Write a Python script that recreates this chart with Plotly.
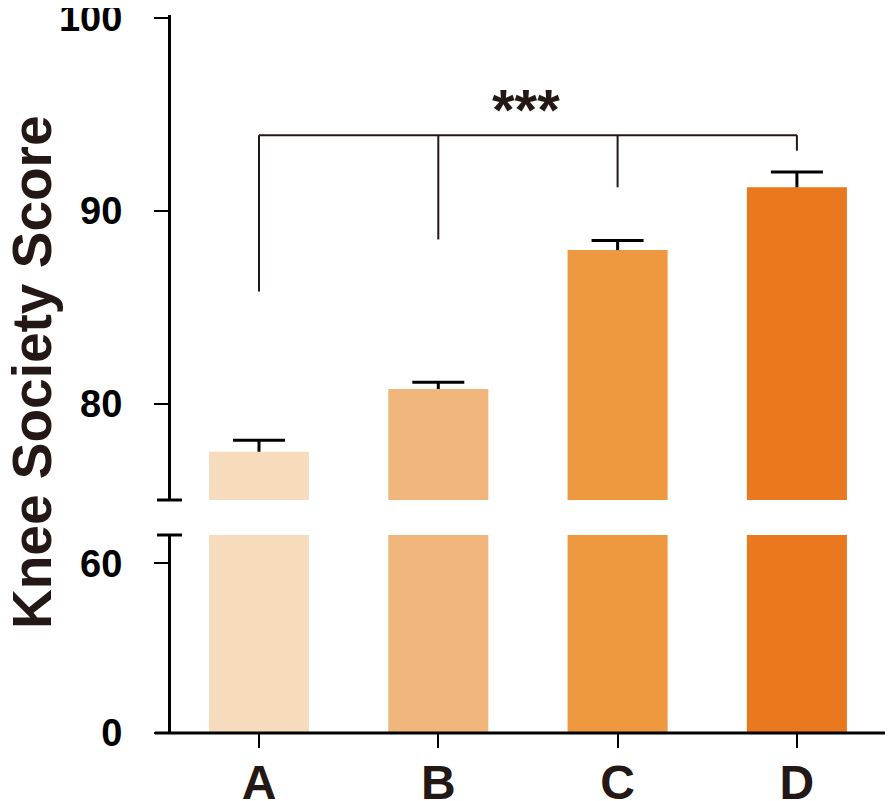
import plotly.graph_objects as go

# ---- data ----
groups = ["A", "B", "C", "D"]
means = [77.5, 80.75, 87.95, 91.2]
sems = [0.6, 0.35, 0.5, 0.8]
bar_colors = ["#F6DBBC", "#F0B67C", "#EE983F", "#E9781E"]

upper_ticks = [80, 90, 100]
lower_ticks = [0, 60]

# significance bracket (drawn on the upper segment)
bracket_y = 93.9
bracket_drop = [85.8, 88.5, 91.2, 93.1]
sig_label = "***"

INK = "#231815"
FONT = "Liberation Sans, Arial, sans-serif"

# page body has an 8px margin, so the figure is a bit smaller than the window
PAGE_PAD = 8
AX_X, AX_Y = 171, 733  # plot left edge and x-axis y, in window pixels
W, H = 893 - PAGE_PAD, 801 - PAGE_PAD
L, R, T, B = AX_X - PAGE_PAD, 1, 15 - PAGE_PAD, 68
plot_h = H - T - B
plot_w = W - L - R

xs = list(range(len(groups)))
cap = 0.145  # half-width of error-bar caps, in category units
x_range = [(AX_X - 259) / 179.3, (892 - 259) / 179.3]

# broken axis: lower 0-70, upper 75-100
low_dom = [0, (AX_Y - 535) / plot_h]
up_dom = [(AX_Y - 500) / plot_h, 1]

fig = go.Figure()

for ax in ["y", "y2"]:
    fig.add_trace(
        go.Bar(
            x=xs,
            y=means,
            yaxis=ax,
            width=0.558,
            marker=dict(color=bar_colors, line=dict(width=0)),
            showlegend=False,
            hoverinfo="skip",
        )
    )

# upper-only error bars (stem + top cap)
ex, ey = [], []
for xi, m, s in zip(xs, means, sems):
    ex += [xi, xi, None, xi - cap, xi + cap, None]
    ey += [m, m + s, None, m + s, m + s, None]
fig.add_trace(
    go.Scatter(
        x=ex, y=ey, yaxis="y2", mode="lines",
        line=dict(color="#000000", width=3),
        showlegend=False, hoverinfo="skip",
    )
)

# bracket
bx, by = [xs[0], xs[-1], None], [bracket_y, bracket_y, None]
for xi, yd in zip(xs, bracket_drop):
    bx += [xi, xi, None]
    by += [bracket_y, yd, None]
fig.add_trace(
    go.Scatter(
        x=bx, y=by, yaxis="y2", mode="lines",
        line=dict(color=INK, width=2),
        showlegend=False, hoverinfo="skip",
    )
)

fig.add_annotation(
    x=1.49, y=95.25, xref="x", yref="y2",
    text="<b>%s</b>" % sig_label, showarrow=False,
    xanchor="center", yanchor="middle",
    font=dict(family=FONT, size=58, color=INK),
)

# y title spanning both segments
fig.add_annotation(
    x=(32 - AX_X) / plot_w, y=(AX_Y - 372) / plot_h, xref="paper", yref="paper",
    text="<b>Knee Society Score</b>", textangle=-90, showarrow=False,
    xanchor="center", yanchor="middle",
    font=dict(family=FONT, size=55, color=INK),
)

# x axis line (extends a bit left of the y axis)
fig.add_shape(
    type="line", xref="paper", yref="paper",
    x0=(155 - AX_X) / plot_w, x1=1, y0=0, y1=0,
    line=dict(color="#000000", width=3),
)

# caps at the axis break
for yb in [low_dom[1], up_dom[0]]:
    fig.add_shape(
        type="line", xref="paper", yref="paper",
        x0=(157 - AX_X) / plot_w, x1=(182 - AX_X) / plot_w, y0=yb, y1=yb,
        line=dict(color="#000000", width=3),
    )

tick_font = dict(family=FONT, size=38, color="#000000")

yaxis_common = dict(
    tickmode="array",
    tickfont=tick_font,
    ticks="outside",
    ticklen=14,
    tickwidth=2,
    tickcolor="#000000",
    ticklabelstandoff=24,
    ticklabeloverflow="allow",
    showline=True,
    linecolor="#000000",
    linewidth=3,
    showgrid=False,
    zeroline=False,
    automargin=False,
    fixedrange=True,
)

fig.update_layout(
    width=W,
    height=H,
    margin=dict(l=L, r=R, t=T, b=B),
    plot_bgcolor="white",
    paper_bgcolor="white",
    xaxis=dict(
        range=x_range,
        tickmode="array",
        tickvals=xs,
        ticktext=["<b>%s</b>" % g for g in groups],
        tickfont=dict(family=FONT, size=48, color=INK),
        ticks="outside",
        ticklen=14,
        tickwidth=2,
        tickcolor="#000000",
        ticklabelstandoff=-7,
        ticklabeloverflow="allow",
        showline=False,
        showgrid=False,
        zeroline=False,
        automargin=False,
        fixedrange=True,
    ),
    yaxis=dict(
        domain=low_dom,
        range=[0, 70],
        tickvals=lower_ticks,
        ticktext=["<b>%d</b>" % v for v in lower_ticks],
        **yaxis_common,
    ),
    yaxis2=dict(
        domain=up_dom,
        range=[75, 100.13],
        tickvals=upper_ticks,
        ticktext=["<b>%d</b>" % v for v in upper_ticks],
        anchor="x",
        **yaxis_common,
    ),
)

fig.write_html("out.html")
